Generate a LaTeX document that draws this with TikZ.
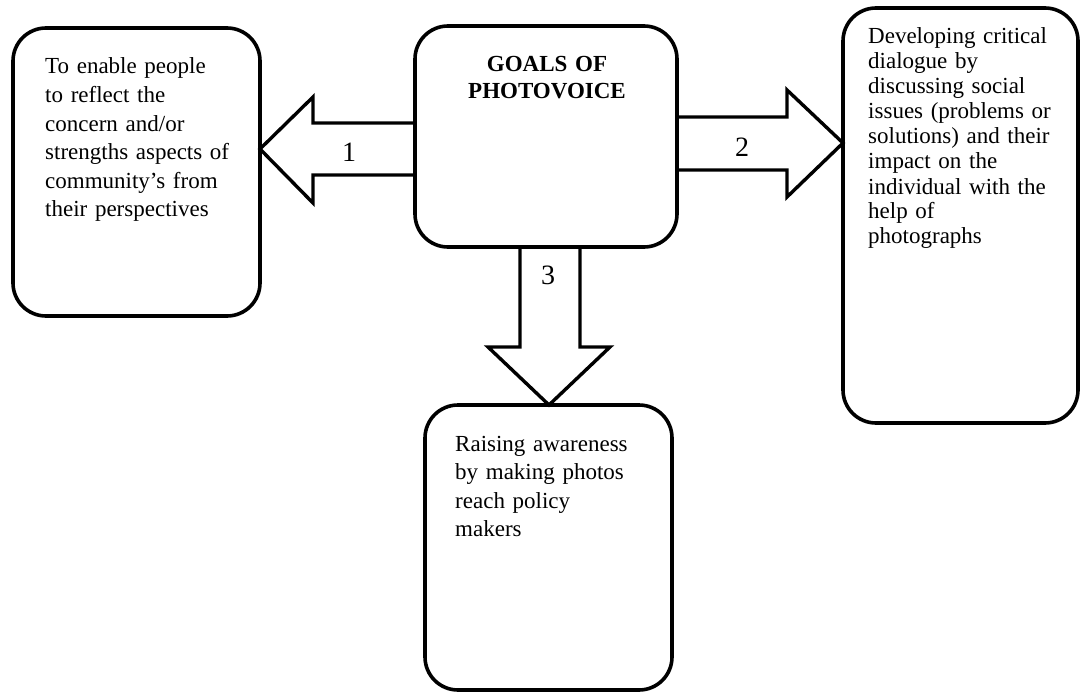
\documentclass[tikz,border=0pt]{standalone}
\usepackage{fontspec}
\setmainfont{Liberation Serif}
\tikzset{
  box/.style={draw, line width=3.6pt, rounded corners=33pt, inner sep=0pt, outer sep=0pt},
  barrow/.style={draw, line width=3.4pt, line join=miter},
  txt/.style={inner sep=0pt, anchor=base west, align=left, font=\fontsize{23}{28.6}\selectfont},
  num/.style={inner sep=0pt, font=\fontsize{28}{30}\selectfont},
}
\begin{document}
\begin{tikzpicture}[x=1pt,y=-1pt]
\path[fill=white,use as bounding box] (0,0) rectangle (1081,693);
% boxes
\node[box, minimum width=247pt, minimum height=288pt] (left) at (136.5,172) {};
\node[box, minimum width=262pt, minimum height=221pt] (center) at (546,136.5) {};
\node[box, minimum width=235pt, minimum height=415pt] (right) at (960.5,215.5) {};
\node[box, minimum width=247pt, minimum height=285pt] (bottom) at (548.5,547.5) {};
% texts
\node[txt, text width=215pt] (tl) at (45,74) {To enable people\\to reflect the\\concern and/or\\strengths aspects of\\community’s from\\their perspectives};
\node[inner sep=0pt, anchor=base, text width=250pt, align=center, font=\bfseries\fontsize{23}{27}\selectfont] (title) at (547,71) {GOALS OF\\PHOTOVOICE};
\node[txt, text width=205pt, font=\fontsize{23}{25}\selectfont] (tr) at (868,44) {Developing critical\\dialogue by\\discussing social\\issues (problems or\\solutions) and their\\impact on the\\individual with the\\help of\\photographs};
\node[txt, text width=210pt] (tb) at (455,451) {Raising awareness\\by making photos\\reach policy\\makers};
% block arrows
\draw[barrow] (center.west |- 0,123) -- (313,123) -- (313,97) -- (left.east |- 0,149) -- (313,203) -- (313,175) -- (center.west |- 0,175);
\draw[barrow] (center.east |- 0,117) -- (787,117) -- (787,90) -- (right.west |- 0,143) -- (787,197) -- (787,170) -- (center.east |- 0,170);
\draw[barrow] (center.south -| 520,0) -- (520,347) -- (488,347) -- (bottom.north -| 549,0) -- (610,347) -- (580,347) -- (center.south -| 580,0);
% labels
\node[num] (n1) at (349,152) {1};
\node[num] (n2) at (742,147) {2};
\node[num] (n3) at (548,275) {3};
\end{tikzpicture}
\end{document}
